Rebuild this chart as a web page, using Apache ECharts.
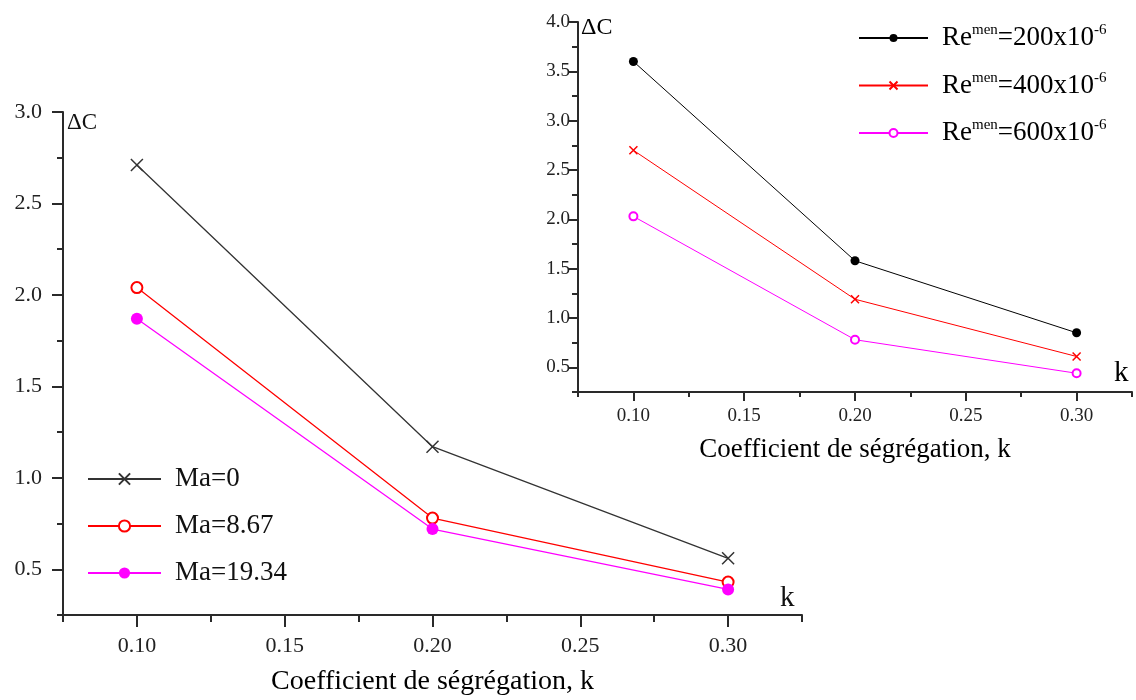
<!DOCTYPE html>
<html>
<head>
<meta charset="utf-8">
<script src="https://cdn.jsdelivr.net/npm/echarts@6/dist/echarts.min.js"></script>
<style>
html,body{margin:0;padding:0;background:#fff;}
#chart{width:1136px;height:700px;}
</style>
</head>
<body>
<div id="chart"></div>
<script>
// ---- data ----
const kValues = [0.10, 0.20, 0.30];
const maNames = ['Ma=0', 'Ma=8.67', 'Ma=19.34'];
const ma0 = [2.71, 1.17, 0.56];
const ma867 = [2.04, 0.78, 0.43];
const ma1934 = [1.87, 0.72, 0.39];
const reValues = ['200', '400', '600'];
const re200 = [3.60, 1.58, 0.85];
const re400 = [2.70, 1.19, 0.61];
const re600 = [2.03, 0.78, 0.44];
const xTickLabels = [0.10, 0.15, 0.20, 0.25, 0.30];
const leftYTickLabels = [0.5, 1.0, 1.5, 2.0, 2.5, 3.0];
const rightYTickLabels = [0.5, 1.0, 1.5, 2.0, 2.5, 3.0, 3.5, 4.0];
const xAxisTitle = 'Coefficient de ségrégation, k';

const FONT = '"Liberation Serif", "DejaVu Serif", serif';
const AX = '#2a2a2a';
const crossPath = 'path://M0,0 L10,10 M10,0 L0,10';

function pairs(vals) { return kValues.map((k, i) => [k, vals[i]]); }

function mainX(grid, opts) {
  return {
    type: 'value', gridIndex: grid, min: 0.075, max: 0.325, interval: 0.025,
    name: xAxisTitle, nameLocation: 'middle', nameGap: opts.nameGap,
    nameTextStyle: {fontFamily: FONT, fontSize: opts.nameSize, color: '#000'},
    axisLine: {show: true, onZero: false, lineStyle: {color: AX, width: 2}},
    axisTick: {show: true, customValues: xTickLabels, length: opts.tick, lineStyle: {color: AX, width: 2}},
    axisLabel: {show: true, customValues: xTickLabels, margin: opts.margin,
      formatter: v => v.toFixed(2), fontFamily: FONT, fontSize: opts.labelSize, color: '#222'},
    splitLine: {show: false}
  };
}
function minorX(grid, len) {
  return {
    type: 'value', gridIndex: grid, min: 0.075, max: 0.325, interval: 0.025, position: 'bottom',
    axisLine: {show: false, onZero: false},
    axisTick: {show: true, length: len, lineStyle: {color: AX, width: 2}},
    axisLabel: {show: false}, splitLine: {show: false}
  };
}
function mainY(grid, max, labels, opts) {
  return {
    type: 'value', gridIndex: grid, min: 0.25, max: max, interval: 0.25,
    axisLine: {show: true, onZero: false, lineStyle: {color: AX, width: 2}},
    axisTick: {show: true, customValues: labels, length: opts.tick, lineStyle: {color: AX, width: 2}},
    axisLabel: {show: true, customValues: labels, margin: opts.margin,
      formatter: v => v.toFixed(1), fontFamily: FONT, fontSize: opts.labelSize, color: '#222'},
    splitLine: {show: false}
  };
}
function minorY(grid, max, len) {
  return {
    type: 'value', gridIndex: grid, min: 0.25, max: max, interval: 0.25, position: 'left',
    axisLine: {show: false, onZero: false},
    axisTick: {show: true, length: len, lineStyle: {color: AX, width: 2}},
    axisLabel: {show: false}, splitLine: {show: false}
  };
}

function lineSeries(name, data, xi, yi, color, symbol, size, lw) {
  const isPath = symbol.indexOf('path://') === 0;
  return {
    name: name, type: 'line', xAxisIndex: xi, yAxisIndex: yi, data: pairs(data),
    symbol: symbol, symbolSize: size, showSymbol: true,
    lineStyle: {color: color, width: lw},
    itemStyle: isPath ? {color: color, borderColor: color, borderWidth: 1.5}
                      : (symbol === 'emptyCircle' ? {color: color, borderWidth: 1.8} : {color: color}),
    emphasis: {disabled: true}, animation: false, z: 3
  };
}

const chart = echarts.init(document.getElementById('chart'), null, {renderer: 'canvas'});
chart.setOption({
  backgroundColor: '#fff',
  animation: false,
  grid: [
    {left: 63, top: 112, width: 739, height: 503, outerBoundsMode: 'none', containLabel: false},
    {left: 578, top: 22, width: 554, height: 370, outerBoundsMode: 'none', containLabel: false}
  ],
  xAxis: [
    mainX(0, {nameGap: 53, nameSize: 28, tick: 12, margin: 20, labelSize: 22}),
    minorX(0, 7),
    mainX(1, {nameGap: 44, nameSize: 27, tick: 9, margin: 15, labelSize: 19}),
    minorX(1, 5)
  ],
  yAxis: [
    mainY(0, 3.0, leftYTickLabels, {tick: 11, margin: 21, labelSize: 22}),
    minorY(0, 3.0, 6),
    mainY(1, 4.0, rightYTickLabels, {tick: 10, margin: 8, labelSize: 19}),
    minorY(1, 4.0, 6)
  ],
  legend: [
    {
      data: maNames, orient: 'vertical', left: 82, top: 459,
      itemWidth: 73, itemHeight: 14, itemGap: 17,
      textStyle: {fontFamily: FONT, fontSize: 27, color: '#111', padding: [0, 0, 0, 9], lineHeight: 30},
      selectedMode: false
    },
    {
      data: reValues.map(v => 'Re' + v), orient: 'vertical', left: 853, top: 18,
      itemWidth: 69, itemHeight: 10, itemGap: 17.5,
      formatter: name => '{a|Re}{s|men}{a|=' + name.slice(2) + 'x10}{s|-6}',
      textStyle: {padding: [0, 0, 0, 9], lineHeight: 30,
        rich: {
          a: {fontFamily: FONT, fontSize: 27, color: '#000', lineHeight: 30},
          s: {fontFamily: FONT, fontSize: 15, color: '#000', lineHeight: 16, verticalAlign: 'top'}
        }},
      selectedMode: false
    }
  ],
  graphic: [
    {type: 'text', left: 67, top: 111, style: {text: 'ΔC', fontFamily: FONT, fontSize: 23, fill: '#111'}},
    {type: 'text', left: 581, top: 16, style: {text: 'ΔC', fontFamily: FONT, fontSize: 24, fill: '#000'}},
    {type: 'text', left: 780, top: 584, style: {text: 'k', fontFamily: FONT, fontSize: 29, fill: '#111'}},
    {type: 'text', left: 1114, top: 359, style: {text: 'k', fontFamily: FONT, fontSize: 29, fill: '#000'}}
  ],
  series: [
    lineSeries(maNames[0], ma0, 0, 0, '#333', crossPath, 12, 1.3),
    lineSeries(maNames[1], ma867, 0, 0, '#ff0000', 'emptyCircle', 11, 1.3),
    lineSeries(maNames[2], ma1934, 0, 0, '#ff00ff', 'circle', 12, 1.3),
    lineSeries('Re' + reValues[0], re200, 2, 2, '#000', 'circle', 9, 1),
    lineSeries('Re' + reValues[1], re400, 2, 2, '#ff0000', crossPath, 8, 1),
    lineSeries('Re' + reValues[2], re600, 2, 2, '#ff00ff', 'emptyCircle', 8, 1)
  ]
});
</script>
</body>
</html>
